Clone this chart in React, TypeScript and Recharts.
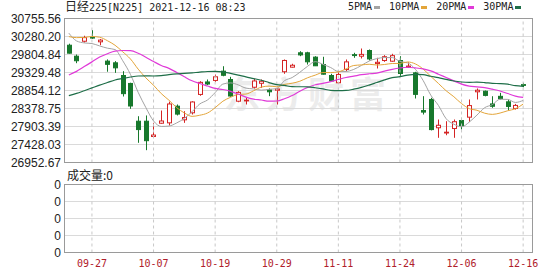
import React from 'react';
import { ComposedChart, Bar, Line, XAxis, YAxis, CartesianGrid, ReferenceLine } from 'recharts';

const dates = [
  '09-21', '09-22', '09-24', '09-27', '09-28', '09-29', '09-30',
  '10-01', '10-04', '10-05', '10-06', '10-07', '10-08', '10-11', '10-12', '10-13', '10-14', '10-15',
  '10-18', '10-19', '10-20', '10-21', '10-22', '10-25', '10-26', '10-27', '10-28', '10-29',
  '11-01', '11-02', '11-04', '11-05', '11-08', '11-09', '11-10', '11-11', '11-12', '11-15',
  '11-16', '11-17', '11-18', '11-19', '11-22', '11-24', '11-25', '11-26', '11-29', '11-30',
  '12-01', '12-02', '12-03', '12-06', '12-07', '12-08', '12-09', '12-10', '12-13', '12-14', '12-15', '12-16',
];

const opens = [
  30050, 29760, 30155, 30260, 30140, 29630, 29585, 29250, 29040, 28043,
  28043, 27640, 27990, 28000, 28440, 28080, 28265, 28750, 29080, 29120,
  29365, 29145, 28571, 28580, 28940, 29045, 28870, 28860, 29350, 29470,
  29850, 29850, 29735, 29540, 29250, 29058, 29408, 29800, 29760, 29910,
  29565, 29646, 29628, 29646, 29470, 29320, 28325, 28617, 27870, 27735,
  27850, 28062, 28150, 28820, 28835, 28500, 28700, 28555, 28380, 29010,
];
const highs = [
  30090, 29805, 30300, 30450, 30215, 29675, 29630, 29365, 29060, 28175,
  28195, 28000, 28325, 28560, 28485, 28308, 28570, 29100, 29145, 29275,
  29495, 29215, 28835, 28660, 29165, 29145, 28907, 28925, 29673, 29560,
  29892, 29877, 29760, 29745, 29295, 29340, 29673, 29850, 29963, 29937,
  29718, 29787, 29823, 29760, 29600, 29348, 28704, 28660, 28088, 28043,
  28088, 28133, 28617, 28907, 28853, 28703, 28793, 28617, 28500, 29058,
];
const lows = [
  29830, 29575, 30120, 30220, 30050, 29350, 29320, 28695, 28370, 27473,
  27278, 27605, 27975, 27930, 28195, 28000, 28220, 28715, 28995, 29080,
  29230, 28690, 28545, 28485, 28905, 28925, 28705, 28485, 29295, 29460,
  29760, 29540, 29500, 29275, 29090, 29030, 29365, 29718, 29700, 29646,
  29435, 29612, 29612, 29232, 29450, 28643, 28220, 27800, 27605, 27673,
  27605, 27824, 28027, 28617, 28700, 28397, 28617, 28335, 28350, 28940,
];
const closes = [
  29840, 29640, 30250, 30240, 30185, 29545, 29453, 28771, 28445, 27822,
  27529, 27678, 28049, 28498, 28231, 28140, 28551, 29069, 29025, 29216,
  29256, 28709, 28805, 28600, 29106, 29098, 28820, 28893, 29647, 29521,
  29794, 29612, 29507, 29285, 29107, 29278, 29610, 29777, 29808, 29688,
  29599, 29746, 29774, 29303, 29499, 28752, 28284, 27822, 27936, 27753,
  28030, 27927, 28456, 28861, 28725, 28438, 28640, 28433, 28460, 28990,
];

const ma5 = [
  30369, 30163, 30111, 30094, 30031, 29972, 29935, 29639, 29280, 28807,
  28404, 28049, 27905, 27915, 27997, 28119, 28294, 28498, 28603, 28800,
  29023, 29055, 29002, 28917, 28895, 28864, 28886, 28903, 29113, 29196,
  29335, 29493, 29616, 29544, 29461, 29358, 29357, 29411, 29516, 29632,
  29696, 29724, 29723, 29622, 29584, 29415, 29122, 28732, 28459, 28109,
  27965, 27894, 28020, 28205, 28400, 28481, 28624, 28619, 28539, 28592,
];
const ma10 = [
  30278, 30250, 30257, 30280, 30261, 30170, 30049, 29875, 29687, 29419,
  29188, 28992, 28772, 28598, 28402, 28262, 28171, 28201, 28259, 28399,
  28571, 28674, 28750, 28760, 28848, 28944, 28970, 28953, 29015, 29046,
  29099, 29190, 29260, 29328, 29328, 29346, 29425, 29514, 29530, 29547,
  29527, 29541, 29567, 29569, 29608, 29556, 29423, 29228, 29040, 28847,
  28690, 28508, 28376, 28332, 28255, 28223, 28259, 28320, 28372, 28496,
];
const ma20 = [
  29264, 29359, 29485, 29610, 29738, 29825, 29894, 29910, 29905, 29839,
  29733, 29621, 29514, 29439, 29331, 29216, 29110, 29038, 28973, 28909,
  28880, 28833, 28761, 28679, 28625, 28603, 28571, 28577, 28637, 28722,
  28835, 28932, 29005, 29044, 29088, 29145, 29198, 29233, 29272, 29296,
  29313, 29365, 29414, 29449, 29468, 29451, 29424, 29371, 29285, 29197,
  29109, 29024, 28972, 28951, 28931, 28889, 28841, 28774, 28706, 28671,
];
const ma30 = [
  28718, 28777, 28849, 28923, 28997, 29064, 29132, 29172, 29210, 29237,
  29239, 29237, 29248, 29273, 29292, 29304, 29320, 29340, 29356, 29359,
  29346, 29305, 29260, 29213, 29170, 29125, 29064, 29010, 28987, 28954,
  28953, 28952, 28927, 28895, 28859, 28851, 28856, 28889, 28935, 28997,
  29066, 29135, 29192, 29219, 29261, 29282, 29273, 29231, 29195, 29146,
  29105, 29079, 29068, 29076, 29064, 29042, 29036, 29020, 28981, 28963,
];
const volumes = [
  0, 0, 0, 0, 0, 0, 0, 0, 0, 0, 0, 0, 0, 0, 0, 0, 0, 0, 0, 0,
  0, 0, 0, 0, 0, 0, 0, 0, 0, 0, 0, 0, 0, 0, 0, 0, 0, 0, 0, 0,
  0, 0, 0, 0, 0, 0, 0, 0, 0, 0, 0, 0, 0, 0, 0, 0, 0, 0, 0, 0,
];

const priceTicks = [26952.67, 27428.03, 27903.39, 28378.75, 28854.12, 29329.48, 29804.84, 30280.2, 30755.56];
// the volume panel keeps 5 grid rows, every one labelled 0 (no volume yet)
const volTicks = [0, 1, 2, 3, 4];
const dateTicks = ['09-27', '10-07', '10-19', '10-29', '11-11', '11-24', '12-06', '12-16'];

const RED = '#d42424';
const GREEN = '#17782c';
const MONO = '"DejaVu Sans Mono", "Noto Sans CJK SC", monospace';
const AXIS_FONT = '"Liberation Sans", Arial, sans-serif';

const data = dates.map((d, i) => ({
  d,
  open: opens[i],
  high: highs[i],
  low: lows[i],
  close: closes[i],
  range: [lows[i], highs[i]],
  ma5: ma5[i],
  ma10: ma10[i],
  ma20: ma20[i],
  ma30: ma30[i],
  vol: volumes[i],
}));

function Candle(props: any) {
  const { x, y, width, height, payload } = props;
  if (x == null || payload == null) return null;
  const top0 = Math.min(y, y + height);
  const h = Math.abs(height);
  const { open, close, high, low } = payload;
  const up = close >= open;
  const color = up ? RED : GREEN;
  const cx = Math.round(x + width / 2) + 0.5;
  const span = high - low || 1;
  const yOf = (v: number) => top0 + ((high - v) / span) * h;
  const bTop = yOf(Math.max(open, close));
  const bBot = yOf(Math.min(open, close));
  return (
    <g>
      <line x1={cx} x2={cx} y1={top0} y2={top0 + h} stroke={color} strokeWidth={1} />
      <rect
        x={cx - 2}
        y={bTop}
        width={4}
        height={Math.max(bBot - bTop, 0.8)}
        fill={up ? '#ffffff' : color}
        stroke={color}
        strokeWidth={1}
      />
    </g>
  );
}

const legend = [
  { name: '5PMA', color: '#a3a3a3' },
  { name: '10PMA', color: '#e3a53a' },
  { name: '20PMA', color: '#e03ad8' },
  { name: '30PMA', color: '#1e6e48' },
];

export default function App() {
  return (
    <div
      style={{
        position: 'absolute',
        left: 0,
        top: 0,
        width: 550,
        height: 276,
        background: '#ffffff',
        overflow: 'hidden',
      }}
    >
      {/* faint watermark behind the price panel */}
      <div
        style={{
          position: 'absolute',
          left: 224,
          top: 72,
          fontFamily: '"Noto Sans CJK SC", sans-serif',
          fontWeight: 700,
          fontSize: 36,
          letterSpacing: 6,
          color: '#ececec',
          lineHeight: '40px',
          whiteSpace: 'nowrap',
        }}
      >
        东方财富
      </div>

      <div
        style={{
          position: 'absolute',
          left: 65,
          top: 0,
          fontFamily: MONO,
          fontSize: 10,
          lineHeight: '14px',
          color: '#222',
          whiteSpace: 'nowrap',
        }}
      >
        <span style={{ fontSize: 12 }}>日经</span>225[N225] 2021-12-16 08:23
      </div>

      <div
        style={{
          position: 'absolute',
          left: 348,
          top: 0,
          display: 'flex',
          fontFamily: MONO,
          fontSize: 10,
          lineHeight: '14px',
          color: '#222',
          whiteSpace: 'nowrap',
        }}
      >
        {legend.map((l) => (
          <span key={l.name} style={{ display: 'flex', alignItems: 'center', marginRight: 9 }}>
            {l.name}
            <span style={{ display: 'inline-block', width: 6, height: 3, background: l.color, marginLeft: 2 }} />
          </span>
        ))}
      </div>

      <div style={{ position: 'absolute', left: 0, top: 0 }}>
        <ComposedChart
          width={550}
          height={170}
          data={data}
          margin={{ top: 18.5, right: 18, left: 0, bottom: 7.5 }}
        >
          <CartesianGrid vertical={false} stroke="#dadada" />
          <XAxis dataKey="d" hide padding={{ left: 1, right: 5 }} />
          <YAxis
            domain={[priceTicks[0], priceTicks[priceTicks.length - 1]]}
            ticks={priceTicks}
            interval={0}
            width={64}
            allowDataOverflow
            axisLine={false}
            tickLine={false}
            tickSize={0}
            tickMargin={3}
            tickFormatter={(v: number) => v.toFixed(2)}
            tick={{ fontSize: 12, fill: '#222', fontFamily: AXIS_FONT }}
          />
          {dateTicks.map((d) => (
            <ReferenceLine key={d} x={d} stroke="#c8c8c8" strokeDasharray="3 3" />
          ))}
          <Line dataKey="ma5" stroke={legend[0].color} dot={false} strokeWidth={1} type="monotone" isAnimationActive={false} />
          <Line dataKey="ma10" stroke={legend[1].color} dot={false} strokeWidth={1} type="monotone" isAnimationActive={false} />
          <Line dataKey="ma20" stroke={legend[2].color} dot={false} strokeWidth={1.2} type="monotone" isAnimationActive={false} />
          <Line dataKey="ma30" stroke={legend[3].color} dot={false} strokeWidth={1.2} type="monotone" isAnimationActive={false} />
          <Bar dataKey="range" shape={<Candle />} isAnimationActive={false} />
        </ComposedChart>
      </div>
      <div
        style={{
          position: 'absolute',
          left: 64,
          top: 18,
          width: 469,
          height: 145,
          boxSizing: 'border-box',
          border: '1px solid #9a9a9a',
          pointerEvents: 'none',
        }}
      />

      <div
        style={{
          position: 'absolute',
          left: 67,
          top: 168,
          fontFamily: '"Noto Sans CJK SC", sans-serif',
          fontSize: 12,
          lineHeight: '14px',
          color: '#222',
        }}
      >
        成交量:0
      </div>

      <div style={{ position: 'absolute', left: 0, top: 170 }}>
        <ComposedChart
          width={550}
          height={106}
          data={data}
          margin={{ top: 14.5, right: 18, left: 0, bottom: 0 }}
        >
          <CartesianGrid vertical={false} stroke="#dadada" />
          <XAxis
            dataKey="d"
            ticks={dateTicks}
            interval={0}
            padding={{ left: 1, right: 5 }}
            height={23.5}
            axisLine={false}
            tickLine={false}
            tickSize={0}
            tickMargin={7}
            tick={{ fontSize: 10, fill: '#b0202a', fontFamily: MONO }}
          />
          <YAxis
            domain={[0, 4]}
            ticks={volTicks}
            interval={0}
            width={64}
            axisLine={false}
            tickLine={false}
            tickSize={0}
            tickMargin={3}
            tickFormatter={() => '0'}
            tick={{ fontSize: 12, fill: '#222', fontFamily: AXIS_FONT }}
          />
          {dateTicks.map((d) => (
            <ReferenceLine key={d} x={d} stroke="#c8c8c8" strokeDasharray="3 3" />
          ))}
          <Bar dataKey="vol" fill={GREEN} isAnimationActive={false} />
        </ComposedChart>
      </div>
      <div
        style={{
          position: 'absolute',
          left: 64,
          top: 184,
          width: 469,
          height: 69,
          boxSizing: 'border-box',
          border: '1px solid #9a9a9a',
          pointerEvents: 'none',
        }}
      />
    </div>
  );
}
